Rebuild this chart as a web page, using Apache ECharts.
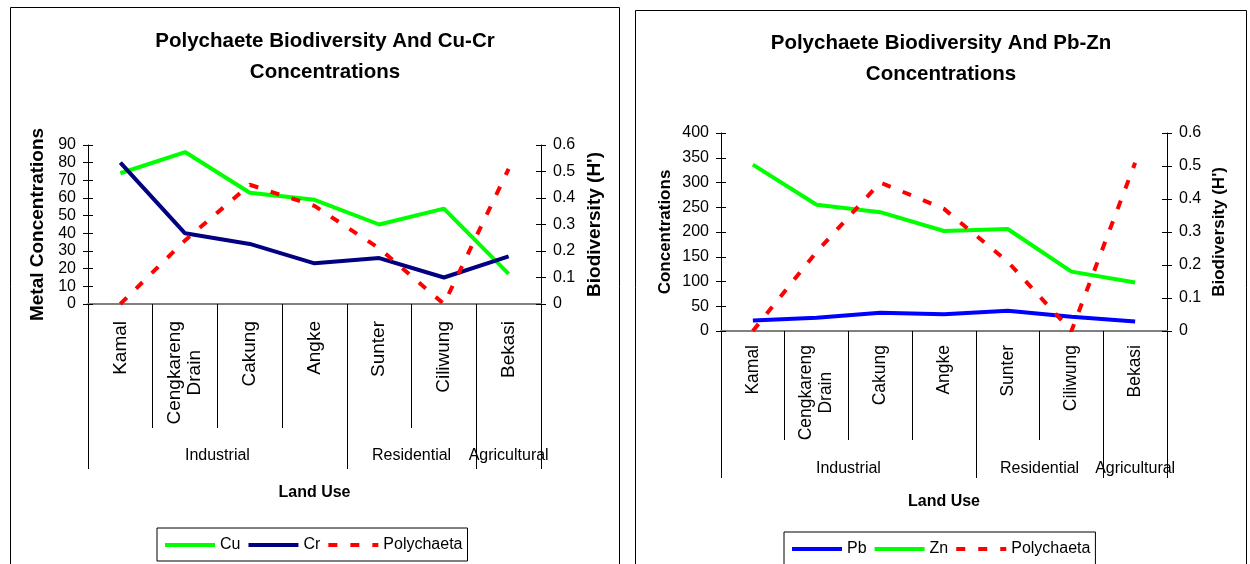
<!DOCTYPE html>
<html><head><meta charset="utf-8">
<script src="https://cdn.jsdelivr.net/npm/echarts@6/dist/echarts.min.js"></script>
<style>html,body{margin:0;padding:0;background:#fff;} #c{width:1250px;height:564px;}</style>
</head><body><div id="c"></div>
<script>
// ---------- data ----------
const sites = ['Kamal', 'Cengkareng\nDrain', 'Cakung', 'Angke', 'Sunter', 'Ciliwung', 'Bekasi'];
const landUse = [
  { name: 'Industrial', from: 0, to: 4 },
  { name: 'Residential', from: 4, to: 6 },
  { name: 'Agricultural', from: 6, to: 7 }
];
const cu = [74, 86, 63, 59, 45, 54, 17];
const cr = [80, 40, 34, 23, 26, 15, 27];
const pb = [21, 27, 37, 34, 41, 29, 19];
const zn = [336, 255, 240, 202, 206, 120, 98];
const polychaeta = [0, 0.24, 0.45, 0.37, 0.21, 0, 0.51];
const cuCrTicks = { min: 0, max: 90, interval: 10 };
const pbZnTicks = { min: 0, max: 400, interval: 50 };
const hTicks = { min: 0, max: 0.6, interval: 0.1 };

// ---------- helpers ----------
const FONT = "'Liberation Sans', Arial, sans-serif";
const halfPoints = 2 * sites.length + 1;
const groupAxisData = Array.from({ length: halfPoints }, (_, i) => {
  const g = landUse.find(g => g.from + g.to === i);
  return g ? g.name : '';
});
const boundaryIdx = new Set([0].concat(landUse.map(g => 2 * g.to)));

function siteFormatter(v) {
  const parts = v.split('\n');
  if (parts.length < 2) return v;
  return parts[0] + '\n' + parts.slice(1).map(p => '{c|' + p + '}').join('\n');
}

const option = {
  animation: false,
  backgroundColor: '#fff',
  textStyle: { fontFamily: FONT },
  graphic: [
    { type: 'rect', shape: { x: 10.5, y: 7.5, width: 609, height: 600 }, style: { fill: 'none', stroke: '#000', lineWidth: 1 }, silent: true },
    { type: 'rect', shape: { x: 635.5, y: 10.5, width: 611, height: 600 }, style: { fill: 'none', stroke: '#000', lineWidth: 1 }, silent: true }
  ],
  title: [],
  legend: [],
  grid: [],
  xAxis: [],
  yAxis: [],
  series: []
};

function valueAxis(g, pos, t, extra) {
  return Object.assign({
    type: 'value', gridIndex: g, position: pos, min: t.min, max: t.max, interval: t.interval,
    axisLine: { show: true, lineStyle: { color: '#000', width: 1 } },
    axisTick: { show: true, length: 5, lineStyle: { color: '#000' } },
    splitLine: { show: false },
    axisLabel: { fontSize: 16, color: '#000', margin: 12, fontFamily: FONT }
  }, extra);
}
function crossTicks(g, pos, t) {
  return {
    type: 'value', gridIndex: g, position: pos, min: t.min, max: t.max, interval: t.interval,
    axisLine: { show: false }, axisLabel: { show: false }, splitLine: { show: false },
    axisTick: { show: true, inside: true, length: 5, lineStyle: { color: '#000' } }
  };
}

function addPanel(p) {
  const g = option.grid.length;
  option.grid.push({ left: p.grid[0], top: p.grid[1], width: p.grid[2], height: p.grid[3], containLabel: false });
  option.title.push({
    text: p.title, left: p.titleX, top: p.titleY, textAlign: 'center', padding: 0,
    textStyle: { fontFamily: FONT, fontSize: 20.5, fontWeight: 'bold', color: '#000', lineHeight: 31 }
  });
  const xa = option.xAxis.length;
  option.xAxis.push({
    type: 'category', gridIndex: g, data: sites, boundaryGap: true, position: 'bottom',
    axisLine: { show: true, onZero: false, lineStyle: { color: '#808080', width: 2 } },
    axisTick: { show: true, interval: 0, length: p.shortTick, lineStyle: { color: '#000', width: 1 } },
    axisLabel: {
      interval: 0, rotate: 90, margin: p.labelMargin, fontSize: p.siteFont, color: '#000', fontFamily: FONT,
      lineHeight: 20, formatter: siteFormatter,
      rich: { c: { align: 'center', fontSize: p.siteFont, lineHeight: 20, color: '#000', fontFamily: FONT } }
    },
    splitLine: { show: false }
  });
  option.xAxis.push({
    type: 'category', gridIndex: g, data: groupAxisData, boundaryGap: false, position: 'bottom',
    axisLine: { show: false, onZero: false },
    axisTick: { show: true, length: p.longTick, interval: (i) => boundaryIdx.has(i), lineStyle: { color: '#000', width: 1 } },
    axisLabel: { interval: 0, margin: p.groupMargin, fontSize: 16, color: '#000', fontFamily: FONT },
    splitLine: { show: false },
    name: 'Land Use', nameLocation: 'middle', nameGap: p.landGap, nameMoveOverlap: false,
    nameTextStyle: { fontFamily: FONT, fontSize: 16, fontWeight: 'bold', color: '#000' }
  });
  const ya = option.yAxis.length;
  option.yAxis.push(valueAxis(g, 'left', p.ticks, {
    name: p.leftName, nameLocation: 'middle', nameGap: p.leftGap, nameMoveOverlap: false,
    nameTextStyle: { fontFamily: FONT, fontSize: p.nameFont, fontWeight: 'bold', color: '#000' }
  }));
  option.yAxis.push(valueAxis(g, 'right', hTicks, {
    name: "Biodiversity (H')", nameLocation: 'middle', nameGap: p.rightGap, nameMoveOverlap: false,
    nameTextStyle: { fontFamily: FONT, fontSize: p.nameFont, fontWeight: 'bold', color: '#000' }
  }));
  option.yAxis.push(crossTicks(g, 'left', p.ticks));
  option.yAxis.push(crossTicks(g, 'right', hTicks));
  p.series.forEach((s, k) => {
    option.series.push({
      type: 'line', name: s.name, data: s.data, xAxisIndex: xa, yAxisIndex: s.right ? ya + 1 : ya,
      symbol: 'none', z: 2 + k,
      lineStyle: { color: s.color, width: 4, type: s.dash ? [9, 13] : 'solid' },
      itemStyle: { color: s.color }
    });
  });
  option.legend.push({
    left: p.legend[0], top: p.legend[1], orient: 'horizontal', padding: [9, 5, 8, 6], itemGap: 6,
    itemWidth: 50, itemHeight: 14, borderColor: '#000', borderWidth: 1, selectedMode: false,
    itemStyle: { opacity: 0 },
    lineStyle: { width: 4 },
    textStyle: { fontSize: 16, color: '#000', fontFamily: FONT },
    data: p.series.map(s => s.name)
  });
}

addPanel({
  grid: [88, 145, 453, 159], title: 'Polychaete Biodiversity And Cu-Cr\nConcentrations', titleX: 325, titleY: 26,
  shortTick: 124, longTick: 165, labelMargin: 17, siteFont: 19, groupMargin: 144, landGap: 181,
  ticks: cuCrTicks, leftName: 'Metal Concentrations', leftGap: 41, rightGap: 44, nameFont: 19,
  legend: [157, 528],
  series: [
    { name: 'Cu', data: cu, color: '#00FF00' },
    { name: 'Cr', data: cr, color: '#000080' },
    { name: 'Polychaeta', data: polychaeta, color: '#FF0000', right: true, dash: true }
  ]
});
addPanel({
  grid: [721, 133, 446, 198], title: 'Polychaete Biodiversity And Pb-Zn\nConcentrations', titleX: 941, titleY: 28,
  shortTick: 109, longTick: 147, labelMargin: 14, siteFont: 17.5, groupMargin: 130, landGap: 163,
  ticks: pbZnTicks, leftName: 'Concentrations', leftGap: 47, rightGap: 44, nameFont: 17,
  legend: [784, 532],
  series: [
    { name: 'Pb', data: pb, color: '#0000FF' },
    { name: 'Zn', data: zn, color: '#00FF00' },
    { name: 'Polychaeta', data: polychaeta, color: '#FF0000', right: true, dash: true }
  ]
});

const chart = echarts.init(document.getElementById('c'), null, { renderer: 'canvas' });
chart.setOption(option);
</script>
</body></html>
